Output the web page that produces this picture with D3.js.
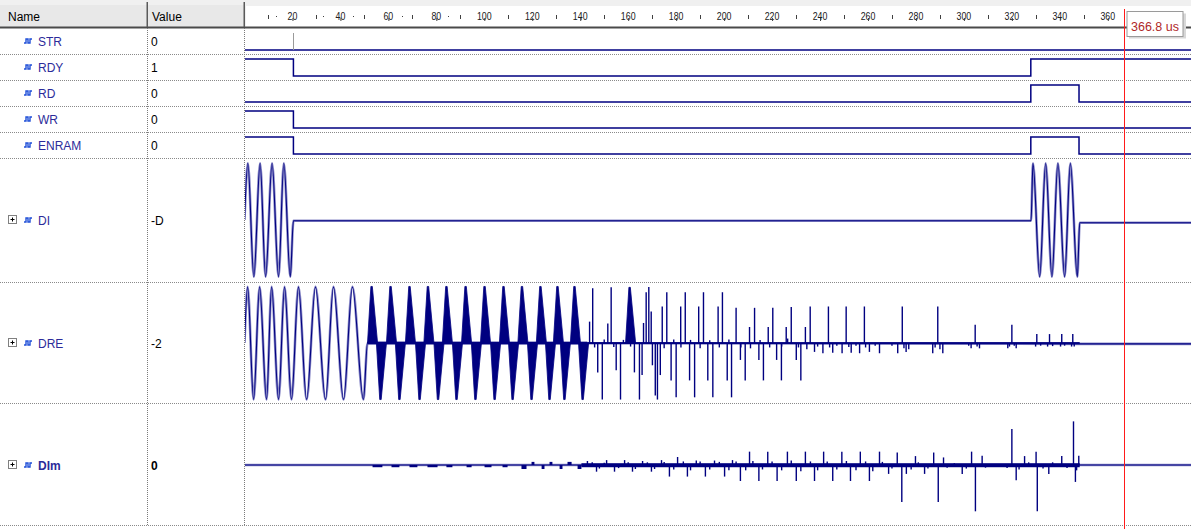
<!DOCTYPE html>
<html>
<head>
<meta charset="utf-8">
<script src="https://cdn.jsdelivr.net/npm/d3@7/dist/d3.min.js"></script>
<style>
body { margin: 0; background: #fff; overflow: hidden; }
svg { display: block; font-family: "Liberation Sans", Arial, sans-serif; }
</style>
</head>
<body>
<div id="main"></div>
<script>
// time axis (us)
var endTime = 394.7;
var cursorTime = 366.8;
var cursorLabel = "366.8 us";
var rulerLabels = [20, 40, 60, 80, 100, 120, 140, 160, 180, 200, 220, 240, 260, 280, 300, 320, 340, 360, 380];
var rulerMinor = [10, 30, 50, 70, 90, 110, 130, 150, 170, 190, 210, 230, 250, 270, 290, 310, 330, 350, 370, 390];
var rulerDots = [13.3, 32.6, 45.2, 65.6, 84.8];

// single bit signals: [time, level]
var bitNames = ["STR", "RDY", "RD", "WR", "ENRAM"];
var bitValues = ["0", "1", "0", "0", "0"];
var strEdges = [[0, 0]];
var strGlitches = [20.4];
var rdyEdges = [[0, 1], [20.4, 0], [327.9, 1]];
var rdEdges = [[0, 0], [327.9, 1], [348.0, 0]];
var wrEdges = [[0, 1], [20.4, 0]];
var enramEdges = [[0, 1], [20.4, 0], [327.9, 1], [348.0, 0]];
var bitEdges = [strEdges, rdyEdges, rdEdges, wrEdges, enramEdges];

// bus signals
var busNames = ["DI", "DRE", "DIm"];
var busValues = ["-D", "-2", "0"];

var diPoints = [[0, 0], [1.4, 2040], [3.9, -2040], [6.5, 2040], [8.8, -2040], [11.5, 2040], [14.2, -2040], [16.4, 2040], [19.1, -2040], [20.4, -26],
  [328.0, -26], [328.8, 2040], [331.6, -2040], [334.1, 2040], [336.7, -2040], [339.2, 2040], [342.0, -2040], [344.4, 2040], [347.3, -2040], [348.3, -99], [394.7, -99]];

var drePoints = [[0, 0], [1.3, 126], [3.8, -127], [6.3, 126], [9.2, -127], [11.3, 126], [14.2, -127], [16.7, 126], [19.6, -127], [22.5, 126], [25.9, -127],
  [29.6, 126], [33.8, -127], [37.1, 126], [41.3, -127], [45.0, 126], [49.6, -127], [51.3, 0], [348.3, -2], [394.7, -2]];
var dreLobes = [[53.0, 127], [56.7, -127], [60.9, 127], [64.6, -127], [68.8, 127], [73.0, -127], [76.5, 127], [80.7, -127], [84.2, 127], [88.4, -127],
  [92.2, 127], [96.3, -127], [100.1, 127], [104.3, -127], [108.0, 127], [111.8, -127], [115.7, 127], [119.7, -127], [123.4, 127], [127.2, -127],
  [130.5, 127], [133.4, -127], [137.6, 127], [141.0, -127], [160.6, 125]];
var dreSpikes = [[143.9, 48], [145.2, 123], [147.3, -66], [149.2, -127], [151.5, 44], [152.9, 125], [155.0, -61], [156.8, -127], [162.6, -66], [164.7, -127],
  [165.8, -72], [166.4, 45], [167.5, 114], [168.6, 126], [169.6, 71], [170.1, -50], [171.3, -118], [172.2, -127], [173.4, -72], [174.2, 82],
  [176.1, 114], [177.9, -84], [180.0, -122], [181.9, 82], [183.8, 114], [185.6, -84], [187.7, -122], [189.4, 82], [191.4, 114], [193.2, -84],
  [195.3, -122], [197.5, 82], [199.3, 114], [201.3, -84], [203.1, -122], [205.0, 79], [206.8, -38], [208.8, -84], [210.6, 36], [212.7, 79],
  [214.5, -38], [216.4, -84], [218.4, 36], [220.3, 79], [221.9, -38], [223.9, -84], [225.9, 36], [228.0, 81], [230.1, -38], [232.0, -84],
  [233.9, 36], [235.9, 82], [237.7, -20], [241.2, -23], [243.5, 82], [245.3, -22], [249.2, -23], [250.9, 82], [253.0, -22], [256.5, -23],
  [258.5, 82], [260.6, -20], [264.8, -23], [272.4, -23], [274.3, 82], [275.9, -20], [287.0, -23], [289.1, 82], [291.2, -23], [303.0, -12],
  [304.7, 41], [306.5, -12], [318.3, -12], [320.0, 41], [321.8, -12], [329.9, -8], [330.4, 20], [334.9, -8], [335.7, 20], [340.3, -8],
  [340.8, 20], [344.9, -8], [345.4, 20],
  [146, -10], [150, 8], [154, -9], [158, 7], [161, -8], [175, -12], [179, 8], [182, -10], [186, 7], [190, -12], [194, 6], [198, -10], [202, 8],
  [207, -10], [211, -12], [215, 7], [219, -10], [224, -8], [226.5, 10], [231, -10], [234.5, -14], [239, -8], [244, -10], [247, -6], [252, -9],
  [255, -6], [259, -10], [263, -6], [270, -6], [275, -12], [277, -14], [288, -10], [290, -14], [302, -6], [305.5, -8], [319, -8], [321, -6],
  [332, -6], [337, -7], [342, -6], [346, -8]];
var dreBands = [[51.3, 143.0, -3, 3], [143.0, 348.3, -2, 2]];

var dimPoints = [[0, 0], [394.7, 0]];
var dimBands = [[53.4, 57.5, -5, 0], [61.3, 64.6, -5, 0], [68.8, 72.1, -5, 0], [76.3, 80.5, -5, 0], [84.2, 86.7, -5, 0], [92.6, 94.7, -5, 0],
  [100.1, 103.0, -5, 0], [107.6, 109.7, -5, 0], [115.5, 117.6, -9, 0], [119.7, 120.9, 0, 7], [123.9, 125.1, -9, 0], [127.2, 128.4, 0, 7],
  [131.4, 132.6, -9, 0], [134.7, 136.4, 0, 7], [138.9, 140.5, -9, 0], [140.5, 348.3, -5, 4]];
var dimSpikes = [[143.0, 9], [146.8, -15], [151.0, 11], [154.3, -15], [158.5, 11], [161.8, -15], [166.0, 9], [169.7, -15], [173.9, 11], [177.2, -26],
  [180.6, 18], [184.7, -26], [188.4, 10], [192.2, -26], [196.0, 10], [200.2, -26], [203.5, 11], [206.8, -36], [210.6, 30], [214.5, -36],
  [218.2, 30], [222.1, -36], [226.4, 30], [230.1, -36], [233.9, 30], [237.7, -36], [241.5, 30], [245.3, -36], [249.1, 30], [252.7, -36],
  [256.8, 30], [260.6, -36], [264.8, 30], [268.6, -20], [272.2, 28], [274.1, -83], [276.0, -20], [279.8, 20], [283.6, -20], [287.4, 28],
  [289.3, -83], [291.5, 17], [299.3, -20], [303.2, 30], [304.8, -104], [307.6, 21], [320.0, 81], [321.8, -34], [325.3, 20], [330.1, 30],
  [330.6, -104], [335.4, -20], [340.8, 20], [345.7, 98], [346.5, -38], [347.9, 21],
  [145, 6], [148, -8], [150, 5], [156, -7], [160, 6], [163, -9], [168, 6], [171, -9], [175, 7], [179, -10], [183, 8], [186, -12], [190, 8],
  [194, -10], [198, 7], [202, -12], [205, 8], [209, -12], [212, 9], [216, -10], [220, 8], [224, -12], [228, 10], [232, -14], [236, 8],
  [239, -12], [243, 8], [247, -10], [251, 9], [255, -12], [259, 8], [262, -14], [266, 7], [270, -8], [278, -10], [281, 6], [285, -8],
  [293, -6], [296, 4], [301, -8], [309, -6], [318, -7], [323, -10], [327, 6], [333, -8], [337, 6], [343, -7], [347, -12]];

var W = 1191, H = 529;
var waveColor = "#000080";
var svg = d3.select("#main").append("svg")
  .attr("width", W)
  .attr("height", H);//create canvas

var x = d3.scaleLinear().domain([0, endTime]).range([244.5, W]);//time scale

svg.append("defs").append("clipPath").attr("id", "wave")
  .append("rect").attr("x", 245).attr("y", 28).attr("width", W - 245).attr("height", H - 28);

// header
svg.append("rect").attr("x", 0).attr("y", 0).attr("width", W).attr("height", 27).attr("fill", "#f0f0f0");
svg.append("rect").attr("x", 0).attr("y", 5).attr("width", 245).attr("height", 22).attr("fill", "#e8e8e8");
svg.append("rect").attr("x", 246).attr("y", 6).attr("width", W - 246).attr("height", 21).attr("fill", "#ffffff");
svg.append("rect").attr("x", 0).attr("y", 26.5).attr("width", W).attr("height", 2).attr("fill", "#4a4a4a");
[147, 244].forEach(function(cx) {
  svg.append("rect").attr("x", cx - 0.5).attr("y", 2).attr("width", 1.5).attr("height", 25).attr("fill", "#5a5a5a");
});
svg.append("text").attr("x", 8).attr("y", 21).attr("font-size", 12).attr("fill", "#000").text("Name");
svg.append("text").attr("x", 152).attr("y", 21).attr("font-size", 12).attr("fill", "#000").text("Value");

// ruler
var ruler = svg.append("g");
ruler.selectAll(".lab").data(rulerLabels).enter().append("text")
  .attr("x", function(d) { return x(d); })
  .attr("y", 20)
  .attr("font-size", 11)
  .attr("text-anchor", "middle")
  .attr("textLength", function(d) { return String(d).length * 4.9; })
  .attr("lengthAdjust", "spacingAndGlyphs")
  .attr("fill", "#202020")
  .text(function(d) { return d; });
ruler.selectAll(".maj").data(rulerLabels).enter().append("line")
  .attr("x1", function(d) { return x(d) + 0.5; }).attr("x2", function(d) { return x(d) + 0.5; })
  .attr("y1", 18).attr("y2", 21).attr("stroke", "#404040");
ruler.selectAll(".min").data(rulerMinor).enter().append("line")
  .attr("x1", function(d) { return Math.round(x(d)) + 0.5; }).attr("x2", function(d) { return Math.round(x(d)) + 0.5; })
  .attr("y1", 15).attr("y2", 19).attr("stroke", "#404040");
ruler.selectAll(".dot").data(rulerDots).enter().append("rect")
  .attr("x", function(d) { return Math.round(x(d)); }).attr("y", 16).attr("width", 1).attr("height", 1).attr("fill", "#404040");

// row layout
var bitTop = 27.5, bitH = 26;
var busCenters = [220, 343, 465];
var seps = d3.range(1, 6).map(function(i) { return bitTop + i * bitH; }).concat([282, 403, 525]);
svg.selectAll(".sep").data(seps).enter().append("line")
  .attr("x1", 0).attr("x2", W)
  .attr("y1", function(d) { return Math.round(d) + 0.5; }).attr("y2", function(d) { return Math.round(d) + 0.5; })
  .attr("stroke", "#8a8a8a").attr("stroke-dasharray", "1,1");//row separators
[147, 244].forEach(function(cx) {
  svg.append("line").attr("x1", cx + 0.5).attr("x2", cx + 0.5).attr("y1", 28).attr("y2", 526)
    .attr("stroke", "#7a7a7a").attr("stroke-dasharray", "1,1");
});

function icon(cx, cy) {
  svg.append("path")
    .attr("d", "M" + cx + "," + (cy + 2) + "h2v-4h2v4h2v-4h2")
    .attr("fill", "none").attr("stroke", "#1f4fd8").attr("stroke-width", 1.4);
}
function expander(cx, cy) {
  svg.append("rect").attr("x", cx + 0.5).attr("y", cy - 4.5).attr("width", 8).attr("height", 8)
    .attr("fill", "#fff").attr("stroke", "#808080");
  svg.append("path").attr("d", "M" + (cx + 2.5) + "," + (cy - 0.5) + "h4M" + (cx + 4.5) + "," + (cy - 2.5) + "v4")
    .attr("stroke", "#000").attr("stroke-width", 1);
}

// bit rows
var bitLine = d3.line().curve(d3.curveStepAfter);
bitEdges.forEach(function(edges, i) {
  var top = bitTop + i * bitH;
  var cy = top + 13.5;
  icon(24, cy);
  svg.append("text").attr("x", 38).attr("y", cy + 4.5).attr("font-size", 12).attr("fill", "#2b2b9a").text(bitNames[i]);
  svg.append("text").attr("x", 151).attr("y", cy + 4.5).attr("font-size", 12).attr("fill", "#000").text(bitValues[i]);
  var lev = function(l) { return l ? top + 5.5 : top + 22.5; };
  var pts = edges.map(function(e) { return [x(e[0]), lev(e[1])]; });
  pts.push([x(endTime), lev(edges[edges.length - 1][1])]);
  svg.append("path").attr("clip-path", "url(#wave)")
    .attr("d", bitLine(pts))
    .attr("fill", "none").attr("stroke", waveColor).attr("stroke-width", 1.5);
  if (i === 0) {
    strGlitches.forEach(function(t) {
      svg.append("line").attr("x1", Math.round(x(t)) + 0.5).attr("x2", Math.round(x(t)) + 0.5)
        .attr("y1", lev(1)).attr("y2", lev(0)).attr("stroke", "#9a9a9a");
    });
  }
});

// bus rows
var busData = [
  { points: diPoints, lobes: [], spikes: [], bands: [], max: 2048 },
  { points: drePoints, lobes: dreLobes, spikes: dreSpikes, bands: dreBands, max: 128 },
  { points: dimPoints, lobes: [], spikes: dimSpikes, bands: dimBands, max: 128 }
];
busData.forEach(function(b, i) {
  var cy = busCenters[i];
  var bold = i === 2 ? "bold" : "normal";
  expander(8, cy);
  icon(24, cy);
  svg.append("text").attr("x", 38).attr("y", cy + 4.5).attr("font-size", 12).attr("font-weight", bold).attr("fill", "#2b2b9a").text(busNames[i]);
  svg.append("text").attr("x", 151).attr("y", cy + 4.5).attr("font-size", 12).attr("font-weight", bold).attr("fill", "#000").text(busValues[i]);

  var y = d3.scaleLinear().domain([-b.max, b.max]).range([cy + 57, cy - 57]);
  var g = svg.append("g").attr("clip-path", "url(#wave)");
  var wave = d3.line().x(function(d) { return x(d[0]); }).y(function(d) { return y(d[1]); }).curve(d3.curveMonotoneX);
  g.append("path").datum(b.points)
    .attr("d", wave)
    .attr("fill", "none").attr("stroke", "#8c8cc8").attr("stroke-width", 2.6);//light halo of the stepped trace
  g.selectAll(".band").data(b.bands).enter().append("rect")
    .attr("x", function(d) { return x(d[0]); })
    .attr("width", function(d) { return x(d[1]) - x(d[0]); })
    .attr("y", function(d) { return y(d[3]); })
    .attr("height", function(d) { return y(d[2]) - y(d[3]); })
    .attr("fill", waveColor);//thick noisy baseline
  g.selectAll(".lobe").data(b.lobes).enter().append("path")
    .attr("d", function(d) {
      return d3.line()([[x(d[0] - 1.7), y(0)], [x(d[0] - 0.3), y(d[1])], [x(d[0] + 0.3), y(d[1])], [x(d[0] + 2.5), y(0)]]) + "Z";
    })
    .attr("fill", waveColor).attr("stroke", waveColor).attr("stroke-width", 0.8);//dense bursts
  g.append("path").datum(b.points)
    .attr("d", wave)
    .attr("fill", "none").attr("stroke", waveColor).attr("stroke-width", 1.1);
  g.selectAll(".spike").data(b.spikes).enter().append("line")
    .attr("x1", function(d) { return x(d[0]); }).attr("x2", function(d) { return x(d[0]); })
    .attr("y1", y(0)).attr("y2", function(d) { return y(d[1]); })
    .attr("stroke", waveColor).attr("stroke-width", 1.4);
});

// cursor
var cx = Math.round(x(cursorTime)) + 0.5;
svg.append("line").attr("x1", cx).attr("x2", cx).attr("y1", 9).attr("y2", H).attr("stroke", "#ff1a1a").attr("stroke-width", 1);
svg.append("rect").attr("x", cx + 4.5).attr("y", 13.5).attr("width", 57).attr("height", 25).attr("fill", "#d8d8d8");
svg.append("rect").attr("x", cx + 2.5).attr("y", 11.5).attr("width", 56).attr("height", 25).attr("fill", "#fff").attr("stroke", "#9a9a9a");
svg.append("text").attr("x", cx + 6.5).attr("y", 31).attr("font-size", 12.5).attr("fill", "#b02828").text(cursorLabel);
</script>
</body>
</html>
